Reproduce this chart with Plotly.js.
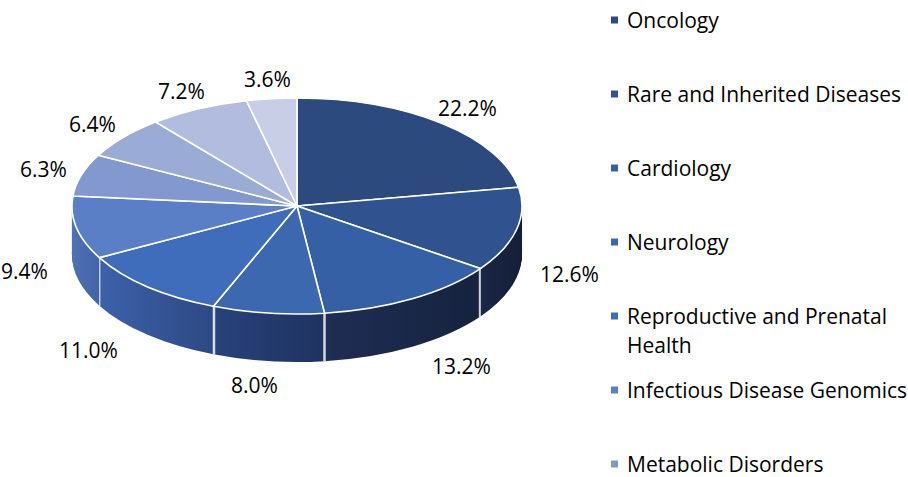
<!DOCTYPE html>
<html>
<head>
<meta charset="utf-8">
<script src="https://cdn.plot.ly/plotly-3.0.1.min.js"></script>
<style>
  html, body { margin: 0; padding: 0; background: #ffffff; }
  #chart { width: 908px; height: 477px; }
</style>
</head>
<body>
<div id="chart"></div>
<script>
// Share of genomic testing applications by clinical area (%)
const categories = [
  "Oncology",
  "Rare and Inherited Diseases",
  "Cardiology",
  "Neurology",
  "Reproductive and Prenatal Health",
  "Infectious Disease Genomics",
  "Metabolic Disorders",
  "Pharmacogenomics",
  "Nutrigenomics",
  "Other Applications"
];
const shares = [22.2, 12.6, 13.2, 8.0, 11.0, 9.4, 6.3, 6.4, 7.2, 3.6];
const percentLabels = shares.map(v => v.toFixed(1) + "%");
const legendCount = 7;

// Face colours (top of the disc) and the shaded wall colours (lit side -> dark side)
const topColors  = ["#2c4a7e", "#30538f", "#3660a6", "#3c68b0", "#3f6dbb", "#5b7fc6", "#8298cf", "#9aabd6", "#b1bcde", "#c7cee6"];
const wallLight  = ["#1c2b4c", "#1a2746", "#1e2e54", "#28427c", "#3d61aa", "#5071b5", "#5a76b4", "#6c84bb", "#8090c4", "#98a4cc"];
const wallDark   = ["#141e38", "#141e38", "#16223e", "#1f3360", "#2d4983", "#4464a8", "#5a76b4", "#6c84bb", "#8090c4", "#98a4cc"];

const W = 908, H = 477;
const FONT = "Open Sans, Noto Sans, sans-serif";
const TEXT_SIZE = 21;
const CX = 297, CY = 206, R = 225, RY = 108;   // disc centre and radii on screen
const DEPTH = 48, STEP = 1;                    // wall height, slab spacing
const SQUASH = RY / R;
const PRE_CY = H / 2;                           // centre of the flat pie before tilting

const total = shares.reduce((a, b) => a + b, 0);
const startDeg = [];
let acc = 0;
shares.forEach(v => { startDeg.push(acc / total * 360); acc += v; });
const endDeg = startDeg.map((s, i) => s + shares[i] / total * 360);

const pieBase = {
  type: "pie",
  values: shares,
  labels: categories,
  sort: false,
  direction: "clockwise",
  rotation: 0,
  textinfo: "none",
  hoverinfo: "skip",
  showlegend: false,
  domain: { x: [(CX - R) / W, (CX + R) / W], y: [0, 1] }
};

// Wall: a stack of slabs drawn from the bottom up, then the top face
const slabOffsets = [];
for (let k = Math.round(DEPTH / STEP); k >= 1; k--) slabOffsets.push(k * STEP);

const data = slabOffsets.map(() => Object.assign({}, pieBase, {
  marker: { colors: wallDark, line: { color: "#ffffff", width: 2.2 } }
}));
data.push(Object.assign({}, pieBase, {
  marker: { colors: topColors, line: { color: "#ffffff", width: 1.6 } }
}));

// Percentage labels placed around the tilted disc
const rad = d => d * Math.PI / 180;
const annotations = [];
shares.forEach((v, i) => {
  const mid = rad((startDeg[i] + endDeg[i]) / 2);
  const s = Math.sin(mid), c = Math.cos(mid);
  const front = c < 0;
  const kx = R + 40 + (front ? 65 * (-c) : 0);
  const ky = RY + 20;
  const px = CX + kx * s;
  const py = CY - ky * c + (front ? 36 + 16 * (-c) : 0);
  annotations.push({
    xref: "paper", yref: "paper",
    x: px / W, y: 1 - py / H,
    xanchor: "center", yanchor: "middle",
    text: percentLabels[i],
    showarrow: false,
    font: { family: FONT, size: TEXT_SIZE, color: "#000000" }
  });
});

// Legend (first entries only), one row every 74 px
const LEG_X = 625, LEG_Y0 = 20, LEG_ROW = 74, LEG_LINE = 29, LEG_WRAP = 28;
const shapes = [];
const wrap = (txt) => {
  if (txt.length <= LEG_WRAP) return [txt];
  const words = txt.split(" ");
  const lines = [""];
  words.forEach(w => {
    const cur = lines[lines.length - 1];
    if ((cur + " " + w).trim().length > LEG_WRAP - 3 && cur) lines.push(w);
    else lines[lines.length - 1] = (cur + " " + w).trim();
  });
  return lines;
};
categories.slice(0, legendCount).forEach((name, i) => {
  const yc = LEG_Y0 + i * LEG_ROW;
  shapes.push({
    type: "rect", xref: "paper", yref: "paper",
    x0: 611 / W, x1: 618 / W, y0: 1 - (yc + 3.5) / H, y1: 1 - (yc - 3.5) / H,
    fillcolor: topColors[i], line: { width: 0 }
  });
  wrap(name).forEach((line, j) => {
    annotations.push({
      xref: "paper", yref: "paper",
      x: LEG_X / W, y: 1 - (yc + j * LEG_LINE) / H,
      xanchor: "left", yanchor: "middle",
      text: line, showarrow: false,
      font: { family: FONT, size: TEXT_SIZE, color: "#000000" }
    });
  });
});

const layout = {
  width: W, height: H,
  margin: { l: 0, r: 0, t: 0, b: 0 },
  paper_bgcolor: "#ffffff",
  plot_bgcolor: "#ffffff",
  showlegend: false,
  annotations: annotations,
  shapes: shapes
};

Plotly.newPlot("chart", data, layout, { staticPlot: true, displayModeBar: false }).then(gd => {
  const NS = "http://www.w3.org/2000/svg";
  const defs = gd.querySelector(".main-svg defs");
  // horizontal shading for each wall segment, lit from the left
  shares.forEach((v, j) => {
    const lo = Math.max(startDeg[j], 90), hi = Math.min(endDeg[j], 270);
    let oL = 0, oR = 1;
    if (hi > lo) {
      const xL = CX + R * Math.sin(rad(hi)), xR = CX + R * Math.sin(rad(lo));
      oL = (xL - (CX - R)) / (2 * R); oR = (xR - (CX - R)) / (2 * R);
    }
    const g = document.createElementNS(NS, "linearGradient");
    g.setAttribute("id", "wall-" + j);
    g.setAttribute("gradientUnits", "userSpaceOnUse");
    g.setAttribute("x1", CX - R); g.setAttribute("x2", CX + R);
    g.setAttribute("y1", 0); g.setAttribute("y2", 0);
    [[oL, wallLight[j]], [oR, wallDark[j]]].forEach(([o, col]) => {
      const st = document.createElementNS(NS, "stop");
      st.setAttribute("offset", o); st.setAttribute("stop-color", col);
      g.appendChild(st);
    });
    defs.appendChild(g);
  });

  const traces = gd.querySelectorAll(".pielayer > g.trace");
  traces.forEach((tg, i) => {
    const isWall = i < slabOffsets.length;
    const off = isWall ? slabOffsets[i] : 0;
    tg.setAttribute("transform", `translate(0,${CY + off - SQUASH * PRE_CY}) scale(1,${SQUASH})`);
    tg.querySelectorAll("path.surface").forEach((p, j) => {
      if (isWall) {
        p.style.fill = `url(#wall-${j})`;
        const L = p.getTotalLength();
        // stroke only the two radii so the seams show as vertical lines on the wall
        p.style.strokeDasharray = `${R} ${Math.max(L - 2 * R, 0)} ${R} 0`;
      } else {
        p.style.vectorEffect = "non-scaling-stroke";
      }
    });
  });
});
</script>
</body>
</html>
